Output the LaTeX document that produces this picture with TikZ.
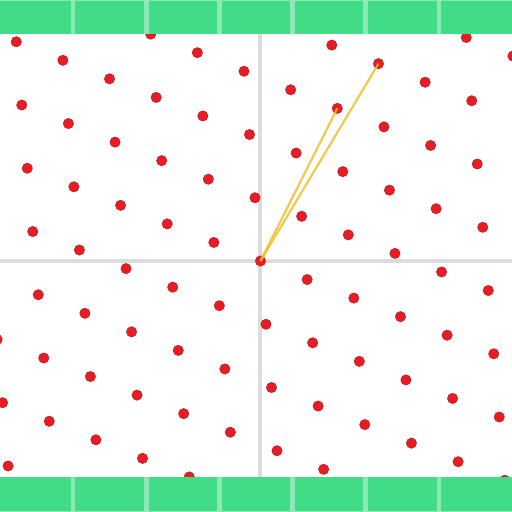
\documentclass[tikz,border=0pt]{standalone}
\usepackage{tikz}

\definecolor{axisgray}{RGB}{220,220,220}
\definecolor{dotred}{RGB}{232,28,36}
\definecolor{vecyellow}{RGB}{240,188,30}
\definecolor{barcyan}{RGB}{64,220,136}
\definecolor{barlight}{RGB}{140,232,180}

\begin{document}
\begin{tikzpicture}[x=1pt, y=-1pt]
  \useasboundingbox (0,0) rectangle (512,512);
  \clip (0,0) rectangle (512,512);
  \fill[white] (0,0) rectangle (512,512);

  % Axes
  \draw[axisgray, line width=3.2pt] (260,0) -- (260,512);
  \draw[axisgray, line width=3.2pt] (0,261) -- (512,261);

  % Lattice points
  \foreach \a in {-12,...,12} {
    \foreach \b in {-8,...,8} {
      \filldraw[fill=dotred, draw=dotred!75!black, line width=0.4pt]
        ({260.5+46.65*\a+41.15*\b}, {261+18.55*\a-44.7*\b}) circle (5.2pt);
    }
  }

  % Short vectors
  \coordinate (o) at (260.5,261);
  \coordinate (p) at ({260.5-46.65+3*41.15}, {261-18.55-3*44.7});
  \coordinate (q) at ({260.5-46.65+4*41.15}, {261-18.55-4*44.7});
  \draw[vecyellow, line width=2.2pt, opacity=0.8] (o) -- (p);
  \draw[vecyellow, line width=2.2pt, opacity=0.8] (o) -- (q);

  % Bars
  \fill[barcyan] (0,0) rectangle (512,34);
  \fill[barcyan] (0,477) rectangle (512,512);
  \draw[barlight, line width=1.5pt] (0,0.5) -- (512,0.5);
  \draw[barlight, line width=1.5pt] (0,511.5) -- (512,511.5);
  \foreach \i in {1,...,6} {
    \draw[barlight, line width=4.5pt] ({\i*512/7},0) -- ({\i*512/7},34);
    \draw[barlight, line width=4.5pt] ({\i*512/7},477) -- ({\i*512/7},512);
  }
\end{tikzpicture}
\end{document}
